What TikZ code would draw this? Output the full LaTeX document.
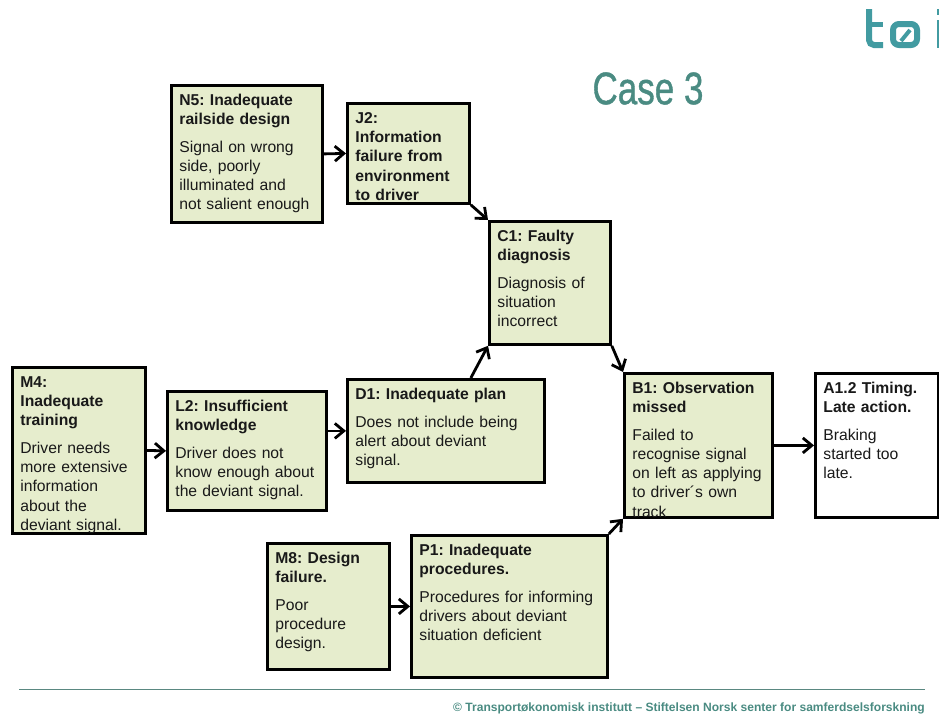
\documentclass[tikz,border=0pt]{standalone}
\usepackage{fontspec}
\setmainfont{Liberation Sans}
\newfontfamily\titlefont[FakeBold=1]{Liberation Sans}
\usetikzlibrary{arrows.meta}
\frenchspacing
\definecolor{boxfill}{HTML}{E6EDCD}
\definecolor{toiteal}{HTML}{4A8B82}
\definecolor{logoteal}{HTML}{429BA1}
\tikzset
{
    casebox/.style 2 args = {rectangle, draw=black, line width=2.8pt, fill=boxfill, anchor=north west, align=left,
        inner xsep=8pt, inner ysep=8pt, text width=#1-16pt, text height=12pt, text depth=#2-28pt,
        text=black!90, font=\fontsize{15.7}{19.2}\selectfont},
    endbox/.style 2 args    = {casebox={#1}{#2}, fill=white},
    link/.style             = {-{Straight Barb[length=9pt,width=15pt,line width=2.8pt]}, line width=2.8pt, black}
}
\begin{document}
\begin{tikzpicture}
    [x=1pt,y=-1pt]
    \useasboundingbox (0,0) rectangle (939,713);
    % logo
    \draw [logoteal, line width=6pt, rounded corners=5pt] (869,9) -- (869,45) -- (883,45);
    \draw [logoteal, line width=5.5pt] (866,24.5) -- (883,24.5);
    \draw [logoteal, line width=6pt, rounded corners=6pt] (893,24) rectangle (917,45);
    \draw [logoteal, line width=4pt] (901,41) -- (910,30);
    \fill [logoteal] (937,9) rectangle (939,15);
    \fill [logoteal] (937,20) rectangle (939,48);
    % title
    \node (title) [anchor=center, text=toiteal, font=\fontsize{45.5}{46}\selectfont\titlefont, xscale=0.77] at (648,88.5) {Case 3};
    % boxes
    \node (N5) [casebox={151}{137}] at (170,84)
      {\textbf{N5: Inadequate\\railside design}\\[8.5pt]Signal on wrong\\side, poorly\\illuminated and\\not salient enough};
    \node (J2) [casebox={122}{100}] at (346,102)
      {\textbf{J2:\\Information\\failure from\\environment\\to driver}};
    \node (C1) [casebox={121}{123}] at (488,220)
      {\textbf{C1: Faulty\\diagnosis}\\[8.5pt]Diagnosis of\\situation\\incorrect};
    \node (M4) [casebox={133}{166}] at (11,366)
      {\textbf{M4:\\Inadequate\\training}\\[8.5pt]Driver needs\\more extensive\\information\\about the\\deviant signal.};
    \node (L2) [casebox={159}{119}] at (166,390)
      {\textbf{L2: Insufficient\\knowledge}\\[8.5pt]Driver does not\\know enough about\\the deviant signal.};
    \node (D1) [casebox={197}{103}] at (346,378)
      {\textbf{D1: Inadequate plan}\\[8.5pt]Does not include being\\alert about deviant\\signal.};
    \node (B1) [casebox={148}{144}] at (623,372)
      {\textbf{B1: Observation\\missed}\\[8.5pt]Failed to\\recognise signal\\on left as applying\\to driver´s own\\track};
    \node (A1) [endbox={123}{144}] at (814,372)
      {\textbf{A1.2 Timing.\\Late action.}\\[8.5pt]Braking\\started too\\late.};
    \node (M8) [casebox={122}{126}] at (266,542)
      {\textbf{M8: Design\\failure.}\\[8.5pt]Poor\\procedure\\design.};
    \node (P1) [casebox={196}{142}] at (410,534)
      {\textbf{P1: Inadequate\\procedures.}\\[8.5pt]Procedures for informing\\drivers about deviant\\situation deficient};
    % links
    \draw [link] (N5.east) -- (J2.west);
    \draw [link] (J2.south east) -- (C1.north west);
    \draw [link] (C1.south east) -- (B1.north west);
    \draw [link] (J2.south east |- D1.north) -- (C1.south west);
    \draw [link] (P1.north east) -- (B1.south west);
    \draw [link] (M4.east) -- (L2.west);
    \draw [link] (L2.east |- D1.west) -- (D1.west);
    \draw [link] (M8.east) -- (P1.west);
    \draw [link] (B1.east) -- (A1.west);
    % footer
    \coordinate (ruleL) at (19,689);
    \coordinate (ruleR) at (925,689);
    \draw [toiteal!70!gray, line width=1pt] (ruleL) -- (ruleR);
    \node (footer) [anchor=east, inner sep=0pt, text=toiteal, font=\fontsize{12.05}{14}\selectfont\bfseries] at (925,708)
      {© Transportøkonomisk institutt – Stiftelsen Norsk senter for samferdselsforskning};
\end{tikzpicture}
\end{document}
